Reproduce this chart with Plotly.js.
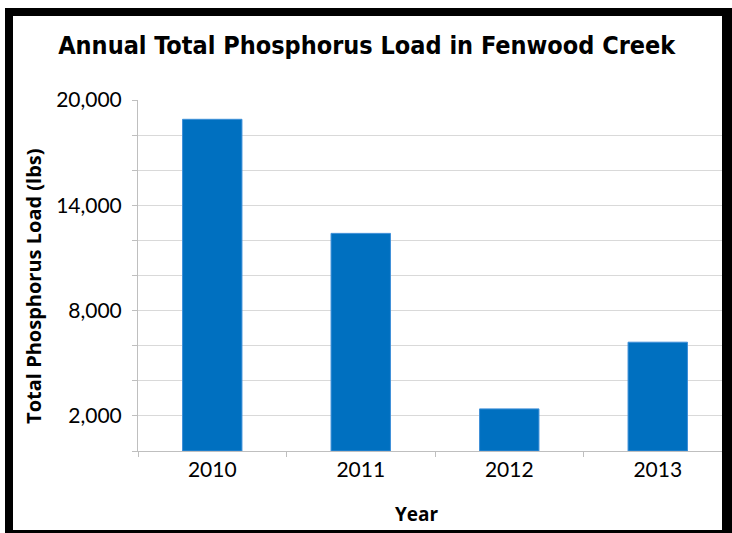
<!DOCTYPE html>
<html>
<head>
<meta charset="utf-8">
<script src="https://cdn.plot.ly/plotly-3.0.1.min.js"></script>
<style>
html,body{margin:0;padding:0;background:#fff;}
#wrap{position:relative;width:732px;height:533px;overflow:hidden;}
#chart{width:732px;height:533px;}
#frame{position:absolute;left:5px;top:8px;width:727px;height:530px;box-sizing:border-box;border:solid #000;border-width:8px 10px 8px 8px;pointer-events:none;}
</style>
</head>
<body>
<div id="wrap"><div id="chart"></div><div id="frame"></div></div>
<script>
const years = ['2010', '2011', '2012', '2013'];
const loads = [18900, 12400, 2400, 6200];
const yTickVals = [0, 2000, 4000, 6000, 8000, 10000, 12000, 14000, 16000, 18000, 20000];
const yTickText = ['', '2,000', '', '', '8,000', '', '', '14,000', '', '', '20,000'];
const chartTitle = 'Annual Total Phosphorus Load in Fenwood Creek';
const xTitle = 'Year';
const yTitle = 'Total Phosphorus Load (lbs)';

const tickFont = {family: 'Lato, "Open Sans", sans-serif', size: 21, color: '#000'};
const xTitleFont = {family: '"Open Sans", Lato, sans-serif', size: 19, color: '#000', weight: 'bold'};
const yTitleFont = {family: '"Open Sans", Lato, sans-serif', size: 20, color: '#000', weight: 'bold'};

const trace = {
  type: 'bar',
  x: years,
  y: loads,
  marker: {color: '#0070c0', line: {color: '#3d8fd8', width: 1}},
  width: 0.4,
  hoverinfo: 'none'
};

const layout = {
  width: 732,
  height: 533,
  margin: {l: 138, r: 0, t: 100, b: 82},
  paper_bgcolor: '#fff',
  plot_bgcolor: '#fff',
  showlegend: false,
  title: {
    text: chartTitle,
    font: {family: '"DejaVu Sans Condensed", "DejaVu Sans", sans-serif', size: 25, color: '#000', weight: 'bold'},
    x: 0.501, xref: 'container', xanchor: 'center',
    y: 0.916, yref: 'container', yanchor: 'middle'
  },
  xaxis: {
    type: 'category',
    range: [-0.5, 3.5],
    showline: true, linecolor: '#bfbfbf', linewidth: 1,
    ticks: 'outside', tickson: 'boundaries', ticklen: 5, tickcolor: '#bfbfbf',
    showgrid: false,
    tickfont: tickFont,
    fixedrange: true
  },
  yaxis: {
    range: [0, 20000],
    tickvals: yTickVals,
    ticktext: yTickText,
    ticks: 'outside', ticklen: 5, tickcolor: '#bfbfbf',
    showline: true, linecolor: '#bfbfbf', linewidth: 1,
    showgrid: true, gridcolor: '#d9d9d9', gridwidth: 1,
    zeroline: false,
    tickfont: tickFont,
    ticklabelstandoff: 6,
    fixedrange: true
  },
  annotations: [
    {
      text: xTitle, showarrow: false,
      xref: 'paper', yref: 'paper',
      x: 0.469, y: -0.18, xanchor: 'center', yanchor: 'middle',
      font: xTitleFont
    },
    {
      text: yTitle, showarrow: false, textangle: -90,
      xref: 'paper', yref: 'paper',
      x: -0.177, y: 0.47, xanchor: 'center', yanchor: 'middle',
      font: yTitleFont
    }
  ]
};

Plotly.newPlot('chart', [trace], layout, {staticPlot: true, displayModeBar: false});
</script>
</body>
</html>
